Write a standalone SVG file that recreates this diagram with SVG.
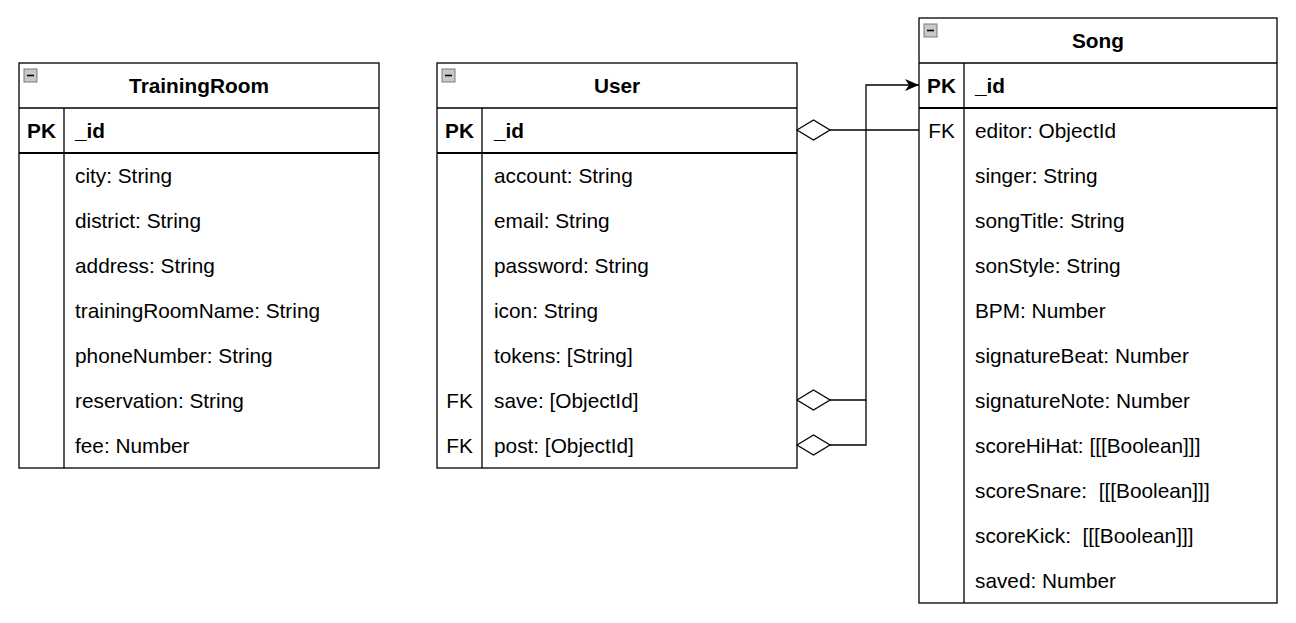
<svg xmlns="http://www.w3.org/2000/svg" width="1296" height="623" viewBox="0 0 1296 623">
  <style>
    .box { fill: #ffffff; stroke: #000000; stroke-width: 1.3; }
    .ln { stroke: #000000; stroke-width: 1.3; fill: none; }
    .sep { stroke: #000000; stroke-width: 2; fill: none; }
    .title { font-family: "Liberation Sans", Arial, sans-serif; font-size: 20.8px; font-weight: bold; text-anchor: middle; fill: #000; }
    .key { font-family: "Liberation Sans", Arial, sans-serif; font-size: 20.8px; font-weight: bold; text-anchor: middle; fill: #000; }
    .fk { font-family: "Liberation Sans", Arial, sans-serif; font-size: 20.8px; text-anchor: middle; fill: #000; }
    .fld { font-family: "Liberation Sans", Arial, sans-serif; font-size: 20.8px; fill: #000; white-space: pre; }
    .fldb { font-family: "Liberation Sans", Arial, sans-serif; font-size: 20.8px; font-weight: bold; fill: #000; }
    .conn { stroke: #000000; stroke-width: 1.3; fill: none; }
    .dia { stroke: #000000; stroke-width: 1.3; fill: #ffffff; }
  </style>
  <defs>
    <g id="collapse">
      <rect x="0" y="0" width="13" height="13" fill="#c8c8c8" stroke="#7a7a7a" stroke-width="1"/>
      <line x1="3" y1="6.5" x2="10" y2="6.5" stroke="#000" stroke-width="1.6"/>
    </g>
    <marker id="arrow" markerWidth="16" markerHeight="14" refX="14" refY="7" orient="auto" markerUnits="userSpaceOnUse">
      <path d="M0,1 L14,7 L0,13 L4,7 Z" fill="#000"/>
    </marker>
  </defs>

  <!-- TrainingRoom table -->
  <g id="trainingroom">
    <rect class="box" x="19" y="63" width="360" height="405"/>
    <use href="#collapse" x="24" y="69"/>
    <text class="title" x="199" y="92.5">TrainingRoom</text>
    <line class="ln" x1="19" y1="108" x2="379" y2="108"/>
    <line class="sep" x1="19" y1="153" x2="379" y2="153"/>
    <line class="ln" x1="64" y1="108" x2="64" y2="468"/>
    <text class="key" x="41.5" y="137.5">PK</text>
    <text class="fldb" x="75" y="137.5">_id</text>
    <text class="fld" x="75" y="182.5">city: String</text>
    <text class="fld" x="75" y="227.5">district: String</text>
    <text class="fld" x="75" y="272.5">address: String</text>
    <text class="fld" x="75" y="317.5">trainingRoomName: String</text>
    <text class="fld" x="75" y="362.5">phoneNumber: String</text>
    <text class="fld" x="75" y="407.5">reservation: String</text>
    <text class="fld" x="75" y="452.5">fee: Number</text>
  </g>

  <!-- User table -->
  <g id="user">
    <rect class="box" x="437" y="63" width="360" height="405"/>
    <use href="#collapse" x="442" y="69"/>
    <text class="title" x="617" y="92.5">User</text>
    <line class="ln" x1="437" y1="108" x2="797" y2="108"/>
    <line class="sep" x1="437" y1="153" x2="797" y2="153"/>
    <line class="ln" x1="482" y1="108" x2="482" y2="468"/>
    <text class="key" x="459.5" y="137.5">PK</text>
    <text class="fldb" x="494" y="137.5">_id</text>
    <text class="fld" x="494" y="182.5">account: String</text>
    <text class="fld" x="494" y="227.5">email: String</text>
    <text class="fld" x="494" y="272.5">password: String</text>
    <text class="fld" x="494" y="317.5">icon: String</text>
    <text class="fld" x="494" y="362.5">tokens: [String]</text>
    <text class="fk" x="459.5" y="407.5">FK</text>
    <text class="fld" x="494" y="407.5">save: [ObjectId]</text>
    <text class="fk" x="459.5" y="452.5">FK</text>
    <text class="fld" x="494" y="452.5">post: [ObjectId]</text>
  </g>

  <!-- Song table -->
  <g id="song">
    <rect class="box" x="919" y="18" width="358" height="585"/>
    <use href="#collapse" x="924" y="24"/>
    <text class="title" x="1098" y="47.5">Song</text>
    <line class="ln" x1="919" y1="63" x2="1277" y2="63"/>
    <line class="sep" x1="919" y1="108" x2="1277" y2="108"/>
    <line class="ln" x1="964" y1="63" x2="964" y2="603"/>
    <text class="key" x="941.5" y="92.5">PK</text>
    <text class="fldb" x="975" y="92.5">_id</text>
    <text class="fk" x="941.5" y="137.5">FK</text>
    <text class="fld" x="975" y="137.5">editor: ObjectId</text>
    <text class="fld" x="975" y="182.5">singer: String</text>
    <text class="fld" x="975" y="227.5">songTitle: String</text>
    <text class="fld" x="975" y="272.5">sonStyle: String</text>
    <text class="fld" x="975" y="317.5">BPM: Number</text>
    <text class="fld" x="975" y="362.5">signatureBeat: Number</text>
    <text class="fld" x="975" y="407.5">signatureNote: Number</text>
    <text class="fld" x="975" y="452.5">scoreHiHat: [[[Boolean]]]</text>
    <text class="fld" x="975" y="497.5">scoreSnare:  [[[Boolean]]]</text>
    <text class="fld" x="975" y="542.5">scoreKick:  [[[Boolean]]]</text>
    <text class="fld" x="975" y="587.5">saved: Number</text>
  </g>

  <!-- Relations -->
  <g id="connectors">
    <path class="conn" d="M830,130 L919,130"/>
    <path class="conn" d="M830,400 L866,400 L866,85 L919,85" marker-end="url(#arrow)"/>
    <path class="conn" d="M830,445 L866,445 L866,400"/>
    <polygon class="dia" points="797,130 813.5,120 830,130 813.5,140"/>
    <polygon class="dia" points="797,400 813.5,390 830,400 813.5,410"/>
    <polygon class="dia" points="797,445 813.5,435 830,445 813.5,455"/>
  </g>
</svg>
